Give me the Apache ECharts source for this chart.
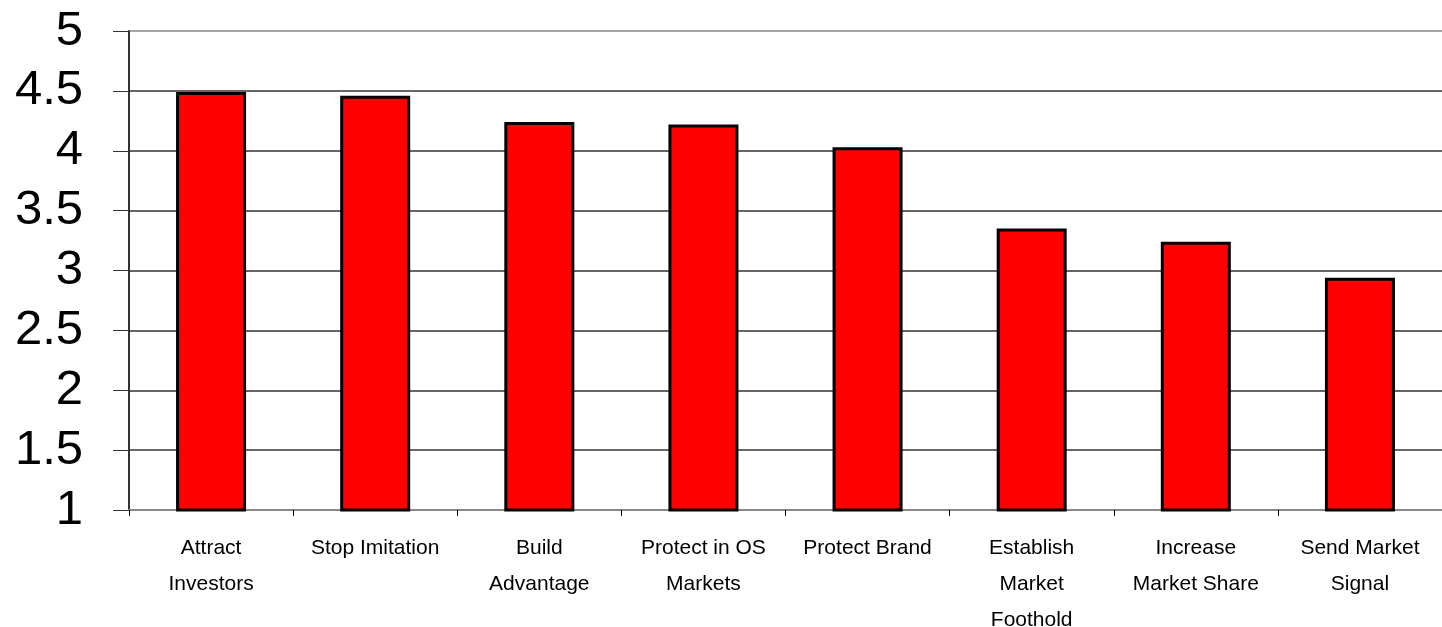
<!DOCTYPE html>
<html>
<head>
<meta charset="utf-8">
<script src="https://cdn.jsdelivr.net/npm/echarts@6/dist/echarts.min.js"></script>
<style>html,body{margin:0;padding:0;background:#fff;}#c{width:1442px;height:627px;}</style>
</head>
<body>
<div id="c"></div>
<script>
var categories = ["Attract\nInvestors", "Stop Imitation", "Build\nAdvantage", "Protect in OS\nMarkets", "Protect Brand", "Establish\nMarket\nFoothold", "Increase\nMarket Share", "Send Market\nSignal"];
var values = [4.49, 4.46, 4.24, 4.22, 4.03, 3.35, 3.24, 2.94];
var yMin = 1, yMax = 5, yStep = 0.5;

var chart = echarts.init(document.getElementById('c'), null, {renderer: 'canvas'});
chart.setOption({
  animation: false,
  backgroundColor: '#fff',
  grid: {left: 129, right: 0, top: 31, bottom: 117, containLabel: false, outerBoundsMode: 'none'},
  xAxis: {
    type: 'category',
    data: categories,
    axisLine: {show: true, lineStyle: {color: '#888', width: 2}},
    axisTick: {show: true, length: 6, lineStyle: {color: '#000', width: 1}},
    axisLabel: {interval: 0, color: '#000', fontFamily: 'Liberation Sans, Arial, sans-serif', fontSize: 21, lineHeight: 36, margin: 20}
  },
  yAxis: {
    type: 'value',
    min: yMin, max: yMax, interval: yStep,
    axisLine: {show: true, lineStyle: {color: '#333', width: 2}},
    axisTick: {show: true, length: 16, lineStyle: {color: '#333', width: 1}},
    axisLabel: {color: '#000', fontFamily: 'Liberation Sans, Arial, sans-serif', fontSize: 49, margin: 46},
    splitLine: {show: true, lineStyle: {color: ['#333','#333','#333','#333','#333','#333','#333','#333','#888'], width: 1.5}}
  },
  series: [{
    type: 'bar',
    data: values,
    barWidth: 70,
    itemStyle: {color: '#ff0000', borderColor: '#000', borderWidth: 3}
  }]
});
</script>
</body>
</html>
